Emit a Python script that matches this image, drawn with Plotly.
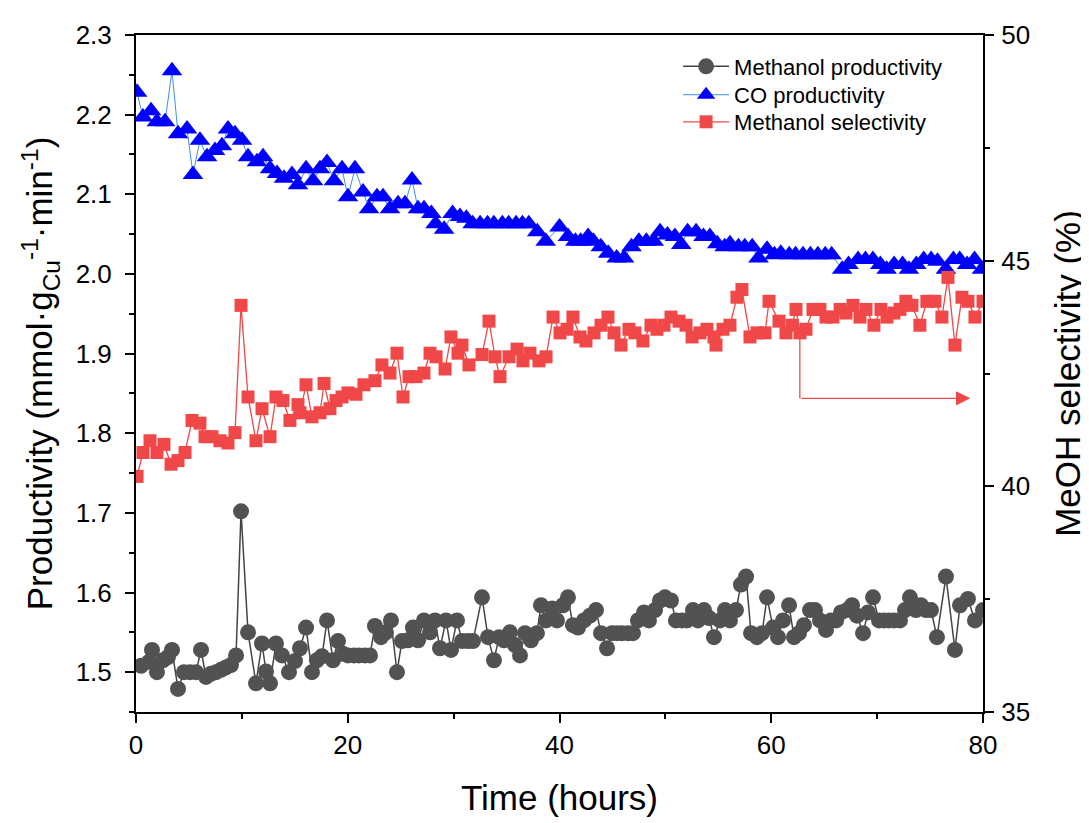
import plotly.graph_objects as go

# ---------------- data ----------------
meoh_prod_t = [0.47, 1.23, 1.51, 1.98, 2.55, 3.02, 3.40, 3.97, 4.53, 5.10, 5.67, 6.14, 6.61, 7.08, 7.56,
               8.03, 8.50, 8.97, 9.45, 9.92, 10.58, 11.33, 11.90, 12.28, 12.66, 13.22, 13.79, 14.45, 15.02,
               15.49, 16.06, 16.62, 17.09, 17.57, 18.04, 18.61, 19.08, 19.55, 20.02, 20.59, 21.06, 21.63,
               22.10, 22.57, 23.14, 23.61, 24.08, 24.65, 25.12, 25.69, 26.16, 26.64, 27.20, 27.77, 28.24,
               28.71, 29.28, 29.75, 30.32, 30.79, 31.36, 31.83, 32.68, 33.25, 33.81, 34.29, 34.76, 35.32,
               35.80, 36.27, 36.74, 37.31, 37.87, 38.25, 38.73, 39.29, 39.76, 40.33, 40.80, 41.27, 41.75,
               42.31, 42.88, 43.45, 43.92, 44.49, 44.96, 45.43, 45.90, 46.47, 46.94, 47.41, 47.98, 48.45,
               49.02, 49.49, 49.96, 50.53, 51.00, 51.57, 52.04, 52.61, 53.08, 53.65, 54.12, 54.59, 55.16,
               55.63, 56.10, 56.67, 57.14, 57.62, 58.09, 58.65, 59.13, 59.60, 60.16, 60.64, 61.11, 61.68,
               62.15, 62.62, 63.09, 63.66, 64.13, 64.60, 65.17, 65.64, 66.12, 66.59, 67.16, 67.63, 68.10,
               68.67, 69.14, 69.61, 70.18, 70.65, 71.12, 71.59, 72.16, 72.63, 73.10, 73.67, 74.14, 74.62,
               75.09, 75.65, 76.50, 77.35, 77.83, 78.58, 79.24, 80.00]
meoh_prod = [1.508, 1.513, 1.528, 1.500, 1.515, 1.519, 1.528, 1.479, 1.500, 1.500, 1.500, 1.528, 1.494, 1.498,
             1.500, 1.503, 1.506, 1.509, 1.521, 1.702, 1.550, 1.486, 1.536, 1.501, 1.486, 1.536, 1.521, 1.500,
             1.514, 1.530, 1.556, 1.500, 1.515, 1.520, 1.565, 1.515, 1.539, 1.523, 1.521, 1.521, 1.521, 1.521,
             1.521, 1.558, 1.544, 1.550, 1.565, 1.500, 1.539, 1.540, 1.556, 1.540, 1.565, 1.550, 1.565, 1.530,
             1.565, 1.528, 1.565, 1.539, 1.539, 1.539, 1.594, 1.544, 1.515, 1.544, 1.540, 1.550, 1.534, 1.521,
             1.549, 1.540, 1.549, 1.584, 1.565, 1.580, 1.565, 1.584, 1.594, 1.559, 1.556, 1.565, 1.571, 1.578,
             1.549, 1.530, 1.549, 1.549, 1.549, 1.549, 1.549, 1.565, 1.575, 1.565, 1.578, 1.590, 1.594, 1.590,
             1.565, 1.565, 1.565, 1.578, 1.565, 1.578, 1.568, 1.544, 1.565, 1.578, 1.565, 1.578, 1.610, 1.620,
             1.549, 1.544, 1.549, 1.594, 1.556, 1.544, 1.565, 1.584, 1.544, 1.549, 1.559, 1.578, 1.578, 1.565,
             1.553, 1.565, 1.565, 1.575, 1.578, 1.584, 1.571, 1.549, 1.575, 1.594, 1.565, 1.565, 1.565, 1.565,
             1.565, 1.578, 1.594, 1.578, 1.584, 1.578, 1.578, 1.544, 1.620, 1.528, 1.584, 1.592, 1.565, 1.578]

co_prod_t = [0.10, 0.66, 1.42, 1.98, 2.74, 3.40, 3.97, 4.82, 5.38, 6.04, 6.71, 7.46, 8.12, 8.69, 9.35, 10.01,
             10.58, 11.43, 12.00, 12.66, 13.32, 13.98, 14.73, 15.30, 16.06, 16.72, 17.38, 18.04, 18.70, 19.46,
             20.02, 20.68, 21.44, 22.01, 22.76, 23.33, 23.99, 24.75, 25.41, 26.07, 26.64, 27.20, 27.90, 28.30,
             29.10, 29.90, 30.60, 31.20, 31.80, 32.50, 33.20, 33.80, 34.60, 35.20, 35.90, 36.50, 37.10, 37.90,
             38.70, 40.00, 40.80, 41.50, 42.00, 42.70, 43.20, 43.90, 44.60, 45.40, 46.10, 46.80, 47.50, 48.20,
             48.90, 49.50, 50.20, 50.90, 51.50, 52.10, 52.90, 53.60, 54.20, 54.90, 55.60, 56.10, 56.90, 57.50,
             58.20, 58.80, 59.60, 60.30, 60.90, 61.70, 62.30, 63.00, 63.70, 64.40, 65.10, 65.70, 66.70, 67.30,
             68.20, 68.90, 69.60, 70.30, 70.90, 71.60, 72.40, 73.00, 73.70, 74.40, 75.10, 75.70, 76.50, 77.20,
             77.80, 78.50, 79.20, 79.90]
co_prod = [2.228, 2.197, 2.205, 2.191, 2.191, 2.255, 2.176, 2.182, 2.125, 2.168, 2.147, 2.155, 2.161, 2.182,
           2.176, 2.168, 2.147, 2.141, 2.147, 2.132, 2.126, 2.120, 2.125, 2.112, 2.132, 2.117, 2.132, 2.140,
           2.117, 2.132, 2.097, 2.132, 2.103, 2.082, 2.097, 2.097, 2.082, 2.088, 2.088, 2.118, 2.082, 2.082,
           2.076, 2.063, 2.056, 2.076, 2.072, 2.070, 2.063, 2.063, 2.063, 2.063, 2.063, 2.063, 2.063, 2.063,
           2.063, 2.053, 2.041, 2.059, 2.047, 2.041, 2.041, 2.047, 2.041, 2.034, 2.026, 2.020, 2.020, 2.034,
           2.041, 2.041, 2.041, 2.053, 2.049, 2.047, 2.037, 2.053, 2.053, 2.047, 2.047, 2.038, 2.034, 2.038,
           2.034, 2.034, 2.034, 2.020, 2.031, 2.024, 2.026, 2.024, 2.024, 2.024, 2.024, 2.024, 2.024, 2.024,
           2.006, 2.012, 2.018, 2.018, 2.018, 2.012, 2.006, 2.012, 2.012, 2.006, 2.012, 2.018, 2.018, 2.016,
           2.006, 2.018, 2.018, 2.012, 2.018, 2.006]

meoh_sel_t = [0.10, 0.66, 1.32, 1.98, 2.64, 3.31, 3.97, 4.63, 5.29, 6.04, 6.52, 7.18, 7.93, 8.69, 9.35, 9.92,
              10.58, 11.33, 11.90, 12.66, 13.22, 13.88, 14.54, 15.30, 15.49, 16.06, 16.62, 17.38, 17.76, 18.32,
              18.89, 19.46, 20.02, 20.78, 21.53, 22.57, 23.23, 23.99, 24.65, 25.22, 25.79, 26.45, 27.20, 27.77,
              28.34, 29.19, 29.75, 30.41, 30.79, 31.45, 32.68, 33.34, 33.91, 34.38, 35.23, 35.99, 36.55, 37.21,
              38.06, 38.73, 39.39, 40.05, 40.71, 41.27, 41.93, 42.50, 43.26, 43.92, 44.58, 45.15, 45.81, 46.56,
              47.13, 47.88, 48.64, 49.21, 49.87, 50.53, 51.29, 51.95, 52.52, 53.27, 53.93, 54.59, 54.78, 55.44,
              56.10, 56.76, 57.23, 57.99, 58.65, 59.41, 59.79, 60.73, 61.39, 61.96, 62.34, 62.72, 63.28, 63.94,
              64.60, 65.17, 65.83, 66.50, 67.06, 67.72, 68.38, 68.95, 69.70, 70.36, 70.93, 71.59, 72.16, 72.72,
              73.29, 74.04, 74.70, 75.46, 76.12, 76.69, 77.35, 78.01, 78.58, 79.24, 80.00]
meoh_sel = [40.22, 40.75, 41.01, 40.75, 40.93, 40.49, 40.57, 40.75, 41.46, 41.40, 41.10, 41.10, 41.01, 40.96,
            41.19, 44.01, 41.98, 41.01, 41.72, 41.10, 41.98, 41.90, 41.46, 41.81, 41.63, 42.25, 41.54, 41.63,
            42.28, 41.72, 41.90, 41.98, 42.07, 42.04, 42.25, 42.34, 42.69, 42.51, 42.95, 41.98, 42.43, 42.43,
            42.51, 42.95, 42.87, 42.60, 43.31, 42.95, 43.13, 42.69, 42.92, 43.66, 42.87, 42.43, 42.87, 43.04,
            42.78, 42.95, 42.78, 42.87, 43.75, 43.40, 43.48, 43.75, 43.31, 43.22, 43.40, 43.57, 43.75, 43.40,
            43.13, 43.48, 43.40, 43.22, 43.57, 43.48, 43.57, 43.75, 43.66, 43.57, 43.31, 43.40, 43.48, 43.31,
            43.13, 43.48, 43.57, 44.19, 44.36, 43.31, 43.40, 43.40, 44.10, 43.66, 43.40, 43.57, 43.92, 43.40,
            43.48, 43.92, 43.92, 43.75, 43.75, 43.92, 43.84, 44.01, 43.75, 43.92, 43.57, 43.92, 43.75, 43.84,
            43.92, 44.10, 44.01, 43.57, 44.10, 44.10, 43.75, 44.63, 43.13, 44.19, 44.10, 43.75, 44.10]

x_ticks = [0, 20, 40, 60, 80]
left_ticks = [1.5, 1.6, 1.7, 1.8, 1.9, 2.0, 2.1, 2.2, 2.3]
right_ticks = [35, 40, 45, 50]

FONT = "Liberation Sans, Arial, sans-serif"
RED = "#f04848"

fig = go.Figure()
fig.add_trace(go.Scatter(
    x=meoh_prod_t, y=meoh_prod, name="Methanol productivity", mode="lines+markers",
    line=dict(color="#444444", width=1.5), legend="legend",
    marker=dict(symbol="circle", size=16, color="#525252"), yaxis="y"))
fig.add_trace(go.Scatter(
    x=co_prod_t, y=co_prod, name="CO productivity", mode="lines+markers",
    line=dict(color="#3d8fe8", width=1), legend="legend2",
    marker=dict(symbol="triangle-up", size=18, color="#0000ff"), yaxis="y"))
fig.add_trace(go.Scatter(
    x=meoh_sel_t, y=meoh_sel, name="Methanol selectivity", mode="lines+markers",
    line=dict(color=RED, width=1.3), legend="legend3",
    marker=dict(symbol="square", size=13, color=RED), yaxis="y2"))

# right-angle arrow pointing to the right axis
fig.add_shape(type="line", xref="x", yref="y2", x0=62.7, x1=62.7, y0=43.4, y1=41.95,
              line=dict(color=RED, width=1.3))
fig.add_annotation(xref="x", yref="y2", axref="x", ayref="y2", x=78.8, y=41.95, ax=62.7, ay=41.95,
                   text="", showarrow=True, arrowhead=2, arrowsize=2.2, arrowwidth=1.3,
                   arrowcolor=RED)

axis_common = dict(showgrid=False, zeroline=False, showline=True, linecolor="black", linewidth=2,
                   ticks="outside", ticklen=9, tickwidth=2, tickcolor="black",
                   tickfont=dict(family=FONT, size=26, color="black"))

legend_common = dict(x=0.64, xanchor="left", yanchor="top", bgcolor="rgba(0,0,0,0)",
                     font=dict(family=FONT, size=22, color="black"), itemwidth=46)

fig.update_layout(
    width=1089, height=823,
    margin=dict(l=128, r=114, t=25, b=119),
    plot_bgcolor="white", paper_bgcolor="white",
    font=dict(family=FONT, color="black"),
    xaxis=dict(range=[0, 80], tickvals=x_ticks, mirror=True,
               minor=dict(dtick=10, tick0=0, ticks="outside", ticklen=5, tickwidth=2, tickcolor="black"),
               title=dict(text="Time (hours)", font=dict(family=FONT, size=35), standoff=26),
               **axis_common),
    yaxis=dict(range=[1.45, 2.3], tickvals=left_ticks, tickformat=".1f", ticklabelstandoff=8,
               minor=dict(dtick=0.05, tick0=1.45, ticks="outside", ticklen=5, tickwidth=2, tickcolor="black"),
               title=dict(text="Productivity (mmol·g<sub>Cu</sub><sup>-1</sup>·min<sup>-1</sup>)",
                          font=dict(family=FONT, size=35), standoff=12),
               **axis_common),
    yaxis2=dict(range=[35, 50], tickvals=right_ticks, overlaying="y", side="right", ticklabelstandoff=2,
                minor=dict(dtick=2.5, tick0=35, ticks="outside", ticklen=5, tickwidth=2, tickcolor="black"),
                title=dict(text="MeOH selectivity (%)", font=dict(family=FONT, size=35), standoff=26),
                **axis_common),
    legend=dict(y=0.9845, **legend_common),
    legend2=dict(y=0.9425, **legend_common),
    legend3=dict(y=0.9025, **legend_common),
    showlegend=True,
)

fig.write_html("out.html")
